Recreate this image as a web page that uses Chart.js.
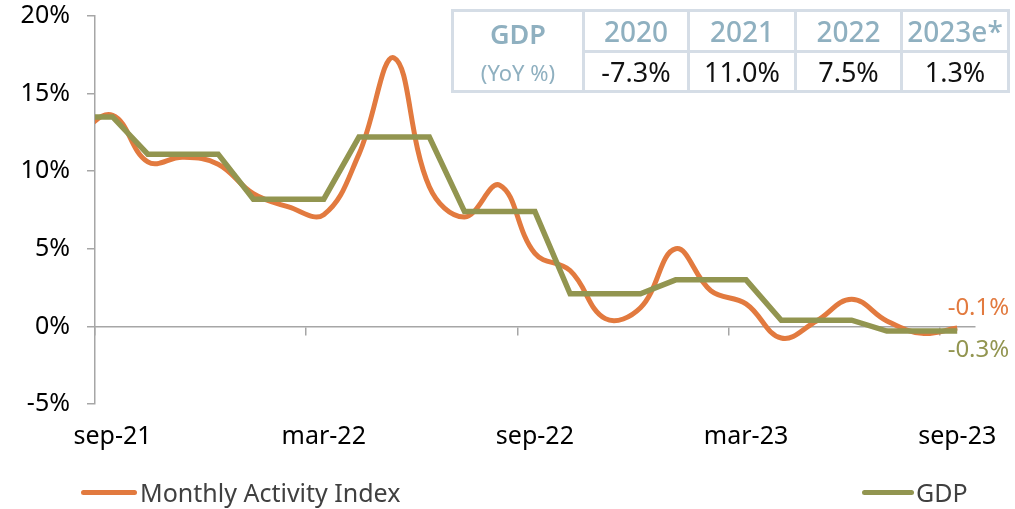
<!DOCTYPE html>
<html>
<head>
<meta charset="utf-8">
<script src="https://cdn.jsdelivr.net/npm/chart.js@4.4.0/dist/chart.umd.min.js"></script>
<style>
  html, body { margin: 0; padding: 0; background: #ffffff; }
  #wrap { position: relative; width: 1015px; height: 509px; overflow: hidden; font-family: "Noto Sans", sans-serif; }
  #chart { position: absolute; left: 0; top: 0; }
  #gdpTable { position: absolute; left: 451px; top: 9px; border-collapse: collapse; table-layout: fixed; width: 556px; }
  #gdpTable td { border: 3px solid #D5DDE6; text-align: center; padding: 0; line-height: 1; white-space: nowrap; }
  #gdpTable tr.r1 td { height: 38px; }
  #gdpTable tr.r2 td { height: 37px; }
  .hdr { color: #8FB0C0; font-size: 28px; font-weight: 500; }
  .val { color: #111111; font-size: 27px; }
  .gdpT { color: #8FB0C0; font-size: 27px; font-weight: 600; display: block; margin-top: 1px; }
  .gdpS { color: #8FB0C0; font-size: 22px; display: block; margin-top: 14px; }
  .lg-sw { position: absolute; height: 5px; border-radius: 3px; }
  .lg-tx { position: absolute; font-size: 25px; color: #404040; line-height: 30px; white-space: nowrap; }
</style>
</head>
<body>
<div id="wrap">
  <canvas id="chart" width="1015" height="509"></canvas>
  <table id="gdpTable"></table>
  <div id="legend"></div>
</div>
<script>
// ---- data ----
const months = ['ago-21','sep-21','oct-21','nov-21','dic-21','ene-22','feb-22','mar-22','abr-22','may-22','jun-22','jul-22','ago-22','sep-22','oct-22','nov-22','dic-22','ene-23','feb-23','mar-23','abr-23','may-23','jun-23','jul-23','ago-23','sep-23'];
const activityIndex = [12.4, 13.6, 10.6, 10.9, 10.45, 8.55, 7.7, 7.2, 11.1, 17.3, 9.0, 7.05, 9.1, 4.7, 3.6, 0.5, 1.2, 5.0, 2.3, 1.45, -0.75, 0.35, 1.75, 0.35, -0.45, -0.1];
const gdp = [13.5, 13.5, 11.1, 11.1, 11.1, 8.2, 8.2, 8.2, 12.2, 12.2, 12.2, 7.4, 7.4, 7.4, 2.1, 2.1, 2.1, 3.0, 3.0, 3.0, 0.4, 0.4, 0.4, -0.3, -0.3, -0.3];
const xTickLabels = ['sep-21','mar-22','sep-22','mar-23','sep-23'];
const yTicks = [-5, 0, 5, 10, 15, 20];
const tableYears = ['2020','2021','2022','2023e*'];
const tableGdp = [-7.3, 11.0, 7.5, 1.3];
const seriesNames = ['Monthly Activity Index', 'GDP'];

// ---- table ----
(function buildTable(){
  const t = document.getElementById('gdpTable');
  const widths = [131, 105, 107, 106, 107];
  let cg = '<colgroup>' + widths.map(w => '<col style="width:' + w + 'px">').join('') + '</colgroup>';
  let r1 = '<tr class="r1"><td rowspan="2"><span class="gdpT">GDP</span><span class="gdpS">(YoY %)</span></td>' +
    tableYears.map(y => '<td class="hdr">' + y + '</td>').join('') + '</tr>';
  let r2 = '<tr class="r2">' + tableGdp.map(v => '<td class="val">' + v.toFixed(1) + '%</td>').join('') + '</tr>';
  t.innerHTML = cg + r1 + r2;
})();

const FONT = '"Noto Sans", sans-serif';
const COL_ORANGE = '#E27A3F';
const COL_GREEN = '#929550';
const AXIS_GRAY = '#A6A6A6';

const labelIdx = xTickLabels.map(l => months.indexOf(l));
const X_MIN = 0.5, X_MAX = months.length - 0.5;

const endLabels = {
  id: 'endLabels',
  afterDatasetsDraw(chart) {
    const ctx = chart.ctx;
    chart.data.datasets.forEach((ds, di) => {
      const meta = chart.getDatasetMeta(di);
      const pt = meta.data[meta.data.length - 1];
      const v = ds.data[ds.data.length - 1].y;
      ctx.save();
      ctx.font = '24px ' + FONT;
      ctx.fillStyle = ds.borderColor;
      ctx.textAlign = 'right';
      ctx.textBaseline = 'middle';
      ctx.fillText(v.toFixed(1) + '%', pt.x + 52, pt.y + ds.endLabelDy);
      ctx.restore();
    });
  }
};

const chart = new Chart(document.getElementById('chart'), {
  type: 'line',
  data: {
    datasets: [
      {
        label: seriesNames[0],
        data: activityIndex.map((v, i) => ({x: i, y: v})),
        borderColor: COL_ORANGE,
        borderWidth: 5,
        tension: 0.4,
        pointRadius: 0,
        clip: 0,
        endLabelDy: -20,
        order: 2
      },
      {
        label: seriesNames[1],
        data: gdp.map((v, i) => ({x: i, y: v})),
        borderColor: COL_GREEN,
        borderWidth: 5.5,
        tension: 0,
        pointRadius: 0,
        clip: 0,
        borderJoinStyle: 'miter',
        endLabelDy: 19,
        order: 1
      }
    ]
  },
  options: {
    responsive: false,
    animation: false,
    devicePixelRatio: 1,
    layout: { padding: { left: 0, right: 37, top: 16, bottom: 55 } },
    plugins: { legend: { display: false }, tooltip: { enabled: false } },
    scales: {
      x: {
        type: 'linear', position: 'bottom', min: X_MIN, max: X_MAX,
        afterBuildTicks: s => { s.ticks = labelIdx.map(v => ({value: v})); },
        afterFit: s => { s.height = 50; },
        grid: { display: false, drawTicks: false },
        border: { display: false },
        ticks: {
          autoSkip: false, maxRotation: 0, padding: 18,
          color: '#000000', font: { family: FONT, size: 25 },
          callback: v => months[v]
        }
      },
      xt: {
        type: 'linear', axis: 'x', position: { y: 0 }, min: X_MIN, max: X_MAX,
        afterBuildTicks: s => { s.ticks = labelIdx.map(v => ({value: v - 0.5})); },
        afterFit: s => { s.height = 0; s.paddingLeft = 0; s.paddingRight = 0; },
        grid: { drawOnChartArea: false, drawTicks: true, tickLength: 8, color: AXIS_GRAY, lineWidth: 1.5 },
        border: { display: true, color: AXIS_GRAY, width: 1.5 },
        ticks: { display: false }
      },
      y: {
        min: -5, max: 20,
        afterBuildTicks: s => { s.ticks = yTicks.map(v => ({value: v})); },
        afterFit: s => { s.width = 95; s.paddingTop = 0; s.paddingBottom = 0; },
        grid: { drawOnChartArea: false, tickLength: 8, color: AXIS_GRAY, lineWidth: 1.5 },
        border: { color: AXIS_GRAY, width: 1.5 },
        ticks: {
          padding: 17, color: '#000000', font: { family: FONT, size: 25 },
          callback: v => v + '%'
        }
      }
    }
  },
  plugins: [endLabels]
});

// ---- legend (HTML) ----
(function buildLegend(){
  const lg = document.getElementById('legend');
  const swLeft = [81, 862], swWidth = [56, 52], txLeft = [140, 916];
  chart.data.datasets.forEach((ds, i) => {
    const sw = document.createElement('div');
    sw.className = 'lg-sw';
    sw.style.left = swLeft[i] + 'px'; sw.style.top = '490px'; sw.style.width = swWidth[i] + 'px';
    sw.style.background = ds.borderColor;
    const tx = document.createElement('div');
    tx.className = 'lg-tx';
    tx.style.left = txLeft[i] + 'px'; tx.style.top = '477px';
    tx.textContent = ds.label;
    lg.appendChild(sw); lg.appendChild(tx);
  });
})();
</script>
</body>
</html>
